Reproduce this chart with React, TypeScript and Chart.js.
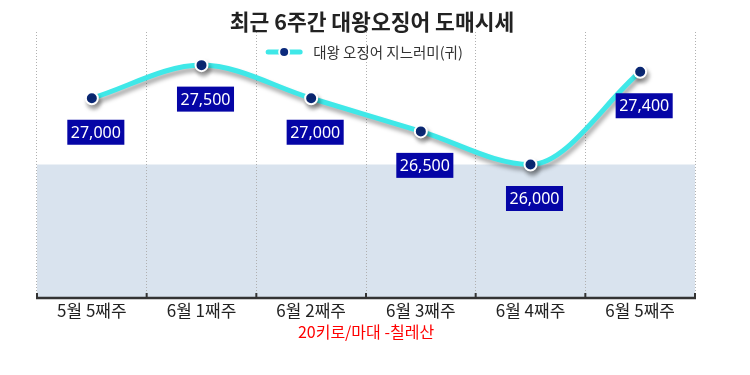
import React, { useEffect, useRef } from "react";
import { Chart, registerables } from "chart.js";

Chart.register(...registerables);

const chartTitle = "최근 6주간 대왕오징어 도매시세";
const seriesName = "대왕 오징어 지느러미(귀)";
const unitNote = "20키로/마대 -칠레산";
const weeks = ["5월 5째주", "6월 1째주", "6월 2째주", "6월 3째주", "6월 4째주", "6월 5째주"];
const prices = [27000, 27500, 27000, 26500, 26000, 27400];
const yMin = 24000;
const yMax = 28000;
const bandFrom = 24000;
const bandTo = 26000;

const KR = "'Noto Sans CJK KR', 'Noto Sans', sans-serif";

const bandPlugin = {
  id: "band",
  beforeDraw(chart: any) {
    const { ctx, chartArea, scales } = chart;
    const y = scales.y;
    const top = y.getPixelForValue(bandTo);
    const bottom = y.getPixelForValue(bandFrom);
    ctx.save();
    ctx.fillStyle = "#d9e3ee";
    ctx.fillRect(chartArea.left, top, chartArea.right - chartArea.left, bottom - top);
    ctx.restore();
  },
};

const headerPlugin = {
  id: "header",
  afterDraw(chart: any) {
    const { ctx, chartArea } = chart;
    ctx.save();
    ctx.textBaseline = "middle";
    ctx.textAlign = "center";
    ctx.fillStyle = "#222222";
    ctx.font = `bold 21.5px ${KR}`;
    ctx.fillText(chartTitle, 372, 22);
    // legend
    ctx.font = `14.5px ${KR}`;
    const tw = ctx.measureText(seriesName).width;
    const iconW = 38;
    const gap = 10;
    const total = iconW + gap + tw;
    const cx = (chartArea.left + chartArea.right) / 2 - 2;
    const x0 = cx - total / 2;
    const ly = 52;
    ctx.strokeStyle = "#3fe8e8";
    ctx.lineWidth = 5;
    ctx.lineCap = "round";
    ctx.beginPath();
    ctx.moveTo(x0 + 3, ly);
    ctx.lineTo(x0 + iconW - 3, ly);
    ctx.stroke();
    ctx.beginPath();
    ctx.arc(x0 + iconW / 2, ly, 5, 0, Math.PI * 2);
    ctx.fillStyle = "#0b2a7c";
    ctx.fill();
    ctx.lineWidth = 2;
    ctx.strokeStyle = "#ffffff";
    ctx.stroke();
    ctx.fillStyle = "#333333";
    ctx.textAlign = "left";
    ctx.fillText(seriesName, x0 + iconW + gap, ly);
    ctx.restore();
  },
};

const shadowPlugin = {
  id: "lineShadow",
  beforeDatasetDraw(chart: any) {
    const ctx = chart.ctx;
    ctx.save();
    ctx.shadowColor = "rgba(0,0,0,0.35)";
    ctx.shadowBlur = 4;
    ctx.shadowOffsetX = 2;
    ctx.shadowOffsetY = 4;
  },
  afterDatasetDraw(chart: any) {
    chart.ctx.restore();
  },
};

const axisPlugin = {
  id: "axisLine",
  afterDatasetsDraw(chart: any) {
    const { ctx, chartArea, scales } = chart;
    const x = scales.x;
    const yb = chartArea.bottom + 1;
    ctx.save();
    ctx.strokeStyle = "#333333";
    ctx.lineWidth = 2.5;
    ctx.beginPath();
    ctx.moveTo(chartArea.left - 1, yb);
    ctx.lineTo(chartArea.right + 1, yb);
    ctx.stroke();
    ctx.lineWidth = 2;
    const n = weeks.length;
    const half = (x.getPixelForValue(1) - x.getPixelForValue(0)) / 2;
    for (let i = 0; i <= n; i++) {
      const px = i < n ? x.getPixelForValue(i) - half : x.getPixelForValue(n - 1) + half;
      ctx.beginPath();
      ctx.moveTo(px, yb - 5);
      ctx.lineTo(px, yb + 1);
      ctx.stroke();
    }
    ctx.restore();
  },
};

const labelPlugin = {
  id: "valueLabels",
  afterDatasetsDraw(chart: any) {
    const { ctx } = chart;
    const meta = chart.getDatasetMeta(0);
    ctx.save();
    ctx.font = "16px 'Noto Sans', sans-serif";
    ctx.textAlign = "center";
    ctx.textBaseline = "middle";
    meta.data.forEach((pt: any, i: number) => {
      const text = prices[i].toLocaleString("en-US");
      const w = ctx.measureText(text).width + 7;
      const h = 25;
      const cx = pt.x + 4;
      const cy = pt.y + 34;
      ctx.fillStyle = "#0505a6";
      ctx.fillRect(cx - w / 2, cy - h / 2, w, h);
      ctx.fillStyle = "#ffffff";
      ctx.fillText(text, cx, cy + 1);
    });
    ctx.restore();
  },
};

export default function App() {
  const ref = useRef<HTMLCanvasElement | null>(null);
  useEffect(() => {
    if (!ref.current) return;
    const chart = new Chart(ref.current, {
      type: "line",
      data: {
        labels: weeks,
        datasets: [
          {
            label: seriesName,
            data: prices,
            borderColor: "#3fe8e8",
            borderWidth: 5,
            cubicInterpolationMode: "monotone",
            pointRadius: 6,
            pointBackgroundColor: "#0b2a7c",
            pointBorderColor: "#ffffff",
            pointBorderWidth: 2,
            fill: false,
          },
        ],
      },
      options: {
        responsive: false,
        animation: false,
        layout: { padding: { left: 37, right: 55, top: 32, bottom: 35 } },
        plugins: {
          title: { display: false },
          legend: { display: false },
          tooltip: { enabled: false },
        },
        scales: {
          x: {
            offset: true,
            grid: {
              display: true,
              offset: true,
              color: "#b0b0b0",
              lineWidth: 1,
              drawTicks: false,
            },
            border: { display: false, dash: [1, 2] },
            ticks: {
              color: "#222222",
              font: { family: KR, size: 17, lineHeight: 1 },
              padding: 5,
              maxRotation: 0,
            },
            title: {
              display: true,
              text: unitNote,
              color: "#ff0000",
              font: { family: KR, size: 16, lineHeight: 1 },
              padding: { top: 0, bottom: 0 },
            },
          },
          y: {
            display: false,
            min: yMin,
            max: yMax,
          },
        },
      },
      plugins: [bandPlugin, shadowPlugin, axisPlugin, labelPlugin, headerPlugin],
    } as any);
    return () => chart.destroy();
  }, []);
  return (
    <div style={{ position: "absolute", left: 0, top: 0, width: 750, height: 375, background: "#ffffff" }}>
      <canvas ref={ref} width={750} height={375} />
    </div>
  );
}
